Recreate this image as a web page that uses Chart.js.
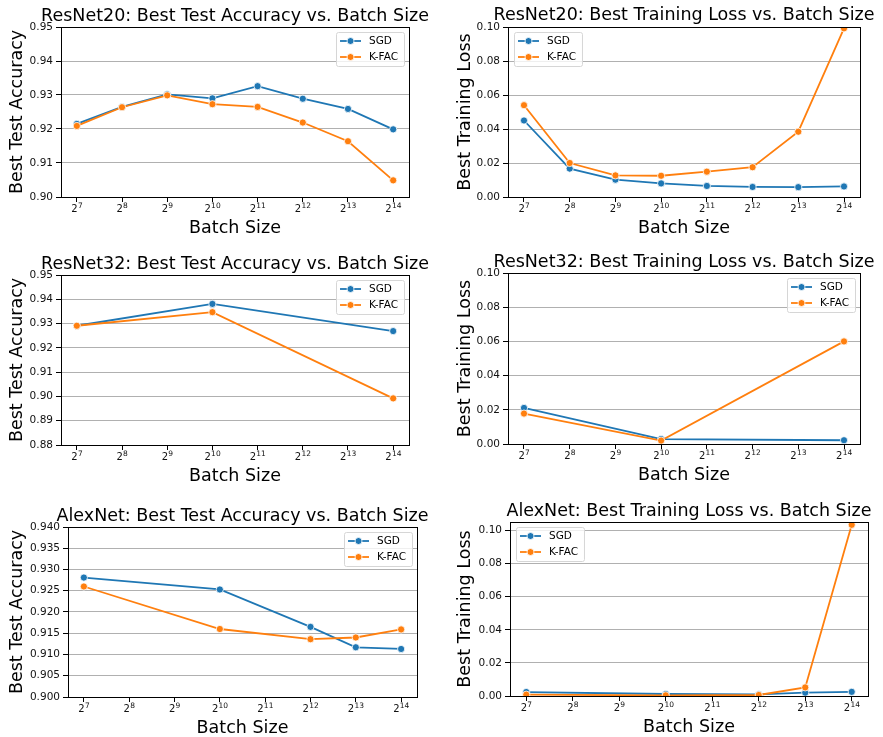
<!DOCTYPE html>
<html>
<head>
<meta charset="utf-8">
<script src="https://cdn.jsdelivr.net/npm/chart.js@4.4.1/dist/chart.umd.min.js"></script>
<style>
  html, body { margin: 0; padding: 0; background: #fff; width: 883px; height: 737px; overflow: hidden; }
  canvas { position: absolute; }
</style>
</head>
<body>
<canvas id="r20acc"></canvas>
<canvas id="r20loss"></canvas>
<canvas id="r32acc"></canvas>
<canvas id="r32loss"></canvas>
<canvas id="alexacc"></canvas>
<canvas id="alexloss"></canvas>
<script>
// x axis: batch size as powers of two (base 2, exponent as superscript)
const xTickExp = [7, 8, 9, 10, 11, 12, 13, 14];
const xTickBase = '2';
const xTickSup = ['7', '8', '9', '10', '11', '12', '13', '14'];
const seriesNames = ['SGD', 'K-FAC'];

// ResNet20
const r20Exp = [7, 8, 9, 10, 11, 12, 13, 14];
const r20AccSGD = [0.9215, 0.9265, 0.9302, 0.9290, 0.9326, 0.9289, 0.9259, 0.9199];
const r20AccKFAC = [0.9209, 0.9264, 0.9299, 0.9273, 0.9265, 0.9219, 0.9164, 0.9049];
const r20LossSGD = [0.0450, 0.0167, 0.0102, 0.0080, 0.0065, 0.0059, 0.0058, 0.0062];
const r20LossKFAC = [0.0540, 0.0200, 0.0127, 0.0125, 0.0149, 0.0175, 0.0384, 0.0992];

// ResNet32
const r32Exp = [7, 10, 14];
const r32AccSGD = [0.9291, 0.9381, 0.9269];
const r32AccKFAC = [0.9291, 0.9347, 0.8992];
const r32LossSGD = [0.0211, 0.0029, 0.0022];
const r32LossKFAC = [0.0178, 0.0020, 0.0600];

// AlexNet
const alexExp = [7, 10, 12, 13, 14];
const alexAccSGD = [0.9281, 0.9253, 0.9165, 0.9117, 0.9113];
const alexAccKFAC = [0.9260, 0.9160, 0.9136, 0.9140, 0.9159];
const alexLossSGD = [0.0024, 0.0012, 0.0010, 0.0020, 0.0025];
const alexLossKFAC = [0.0008, 0.0004, 0.0006, 0.0052, 0.1035];

// y tick values
const r20AccTicks = [0.90, 0.91, 0.92, 0.93, 0.94, 0.95];
const r32AccTicks = [0.88, 0.89, 0.90, 0.91, 0.92, 0.93, 0.94, 0.95];
const alexAccTicks = [0.900, 0.905, 0.910, 0.915, 0.920, 0.925, 0.930, 0.935, 0.940];
const lossTicks = [0.00, 0.02, 0.04, 0.06, 0.08, 0.10];

const BLUE = '#1f77b4';
const ORANGE = '#ff7f0e';
const FONT = '"DejaVu Sans", sans-serif';

// draws the top/right spines, the title, the 2^n tick labels and a matplotlib-like legend
const mplDecor = {
    id: 'mplDecor',
    afterDraw(chart, args, opts) {
        const ctx = chart.ctx;
        const a = chart.chartArea;
        ctx.save();
        ctx.strokeStyle = '#000';
        ctx.lineWidth = 1;
        ctx.strokeRect(Math.round(a.left) + 0.5, Math.round(a.top) + 0.5,
            Math.round(a.right - a.left), Math.round(a.bottom - a.top));

        ctx.fillStyle = '#000';
        ctx.font = '17.5px ' + FONT;
        ctx.textAlign = 'center';
        ctx.textBaseline = 'alphabetic';
        ctx.fillText(opts.title, (a.left + a.right) / 2, a.top - (opts.titleGap || 6));

        // x tick labels: 2 with raised exponent
        const xs = chart.scales.x;
        ctx.textAlign = 'left';
        ctx.fillStyle = '#111';
        xTickExp.forEach((v, i) => {
            const px = xs.getPixelForValue(v);
            ctx.font = '10px ' + FONT;
            const bw = ctx.measureText(xTickBase).width;
            ctx.font = '7.5px ' + FONT;
            const ew = ctx.measureText(xTickSup[i]).width;
            const x0 = px - (bw + ew) / 2;
            ctx.font = '10px ' + FONT;
            ctx.fillText(xTickBase, x0, a.bottom + 15);
            ctx.font = '7.5px ' + FONT;
            ctx.fillText(xTickSup[i], x0 + bw + 0.3, a.bottom + 10.8);
        });

        // legend
        ctx.font = '10.5px ' + FONT;
        const sets = chart.data.datasets;
        let tw = 0;
        sets.forEach(d => { tw = Math.max(tw, ctx.measureText(d.label).width); });
        const w = 33 + tw + 6, h = 34;
        const x0 = opts.legend === 'left' ? a.left + 6 : a.right - 5 - w;
        const y0 = a.top + 5;
        ctx.beginPath();
        ctx.roundRect(x0 + 0.5, y0 + 0.5, w, h, 2);
        ctx.fillStyle = 'rgba(255,255,255,0.8)';
        ctx.fill();
        ctx.strokeStyle = '#d6d6d6';
        ctx.lineWidth = 1;
        ctx.stroke();
        sets.forEach((d, i) => {
            const cy = y0 + 9 + i * 16;
            ctx.strokeStyle = d.borderColor;
            ctx.lineWidth = 1.8;
            ctx.beginPath();
            ctx.moveTo(x0 + 4, cy);
            ctx.lineTo(x0 + 25, cy);
            ctx.stroke();
            ctx.beginPath();
            ctx.arc(x0 + 14.5, cy, 3.5, 0, Math.PI * 2);
            ctx.fillStyle = d.borderColor;
            ctx.fill();
            ctx.strokeStyle = '#fff';
            ctx.lineWidth = 0.8;
            ctx.stroke();
            ctx.fillStyle = '#000';
            ctx.textAlign = 'left';
            ctx.textBaseline = 'middle';
            ctx.fillText(d.label, x0 + 33, cy + 0.5);
        });
        ctx.restore();
    }
};

function makeSeries(label, xs, ys, color, order) {
    return {
        label: label,
        data: xs.map((x, i) => ({ x: x, y: ys[i] })),
        borderColor: color,
        backgroundColor: color,
        borderWidth: 1.8,
        pointRadius: 3.6,
        pointBorderColor: '#fff',
        pointBorderWidth: 0.8,
        pointBackgroundColor: color,
        tension: 0,
        order: order
    };
}

function makePlot(id, box, col, title, yLabel, xs, sgd, kfac, yMin, yMax, yTicks, digits, legend, titleGap) {
    const canvasLeft = col === 0 ? 0 : 448;
    const canvasWidth = col === 0 ? 440 : 435;
    const canvasTop = box.top - 27;
    const canvasHeight = box.bottom - box.top + 27 + 45;
    const el = document.getElementById(id);
    el.style.left = canvasLeft + 'px';
    el.style.top = canvasTop + 'px';
    el.width = canvasWidth;
    el.height = canvasHeight;
    el.style.width = canvasWidth + 'px';
    el.style.height = canvasHeight + 'px';

    new Chart(el.getContext('2d'), {
        type: 'line',
        data: {
            datasets: [
                makeSeries(seriesNames[0], xs, sgd, BLUE, 1),
                makeSeries(seriesNames[1], xs, kfac, ORANGE, 0)
            ]
        },
        options: {
            responsive: false,
            animation: false,
            layout: { padding: { left: 0, top: 27, right: canvasLeft + canvasWidth - box.right, bottom: 0 } },
            plugins: {
                legend: { display: false },
                tooltip: { enabled: false },
                mplDecor: { title: title, legend: legend, titleGap: titleGap }
            },
            scales: {
                x: {
                    type: 'linear',
                    min: 6.65,
                    max: 14.35,
                    afterBuildTicks: s => { s.ticks = xTickExp.map(v => ({ value: v })); },
                    afterFit: s => { s.height = 45; },
                    ticks: { display: false },
                    grid: { drawOnChartArea: false, tickLength: 5, tickColor: '#000', tickWidth: 1 },
                    border: { display: true, color: '#000', width: 1 },
                    title: {
                        display: true,
                        text: 'Batch Size',
                        color: '#000',
                        font: { family: FONT, size: 17.5, lineHeight: 1.2 },
                        padding: { top: 0, bottom: 3 }
                    }
                },
                y: {
                    min: yMin,
                    max: yMax,
                    afterBuildTicks: s => { s.ticks = yTicks.map(v => ({ value: v })); },
                    afterFit: s => { s.width = box.left - canvasLeft; },
                    ticks: {
                        color: '#111',
                        font: { family: FONT, size: 10.5 },
                        padding: 3,
                        autoSkip: false,
                        callback: v => v.toFixed(digits)
                    },
                    grid: { color: '#b0b0b0', lineWidth: 1, tickLength: 5, tickColor: '#000', tickWidth: 1 },
                    border: { display: true, color: '#000', width: 1 },
                    title: {
                        display: true,
                        text: yLabel,
                        color: '#000',
                        font: { family: FONT, size: 17.5, lineHeight: 1.2 },
                        padding: { top: 7, bottom: 0 }
                    }
                }
            }
        },
        plugins: [mplDecor]
    });
}

makePlot('r20acc', { left: 61, right: 409, top: 27, bottom: 197 }, 0,
    'ResNet20: Best Test Accuracy vs. Batch Size', 'Best Test Accuracy',
    r20Exp, r20AccSGD, r20AccKFAC, 0.90, 0.95, r20AccTicks, 2, 'right', 6);
makePlot('r20loss', { left: 508, right: 860, top: 27, bottom: 197 }, 1,
    'ResNet20: Best Training Loss vs. Batch Size', 'Best Training Loss',
    r20Exp, r20LossSGD, r20LossKFAC, 0, 0.10, lossTicks, 2, 'left', 7);
makePlot('r32acc', { left: 61, right: 409, top: 275, bottom: 445 }, 0,
    'ResNet32: Best Test Accuracy vs. Batch Size', 'Best Test Accuracy',
    r32Exp, r32AccSGD, r32AccKFAC, 0.88, 0.95, r32AccTicks, 2, 'right', 6);
makePlot('r32loss', { left: 508, right: 860, top: 273, bottom: 444 }, 1,
    'ResNet32: Best Training Loss vs. Batch Size', 'Best Training Loss',
    r32Exp, r32LossSGD, r32LossKFAC, 0, 0.10, lossTicks, 2, 'right', 6);
makePlot('alexacc', { left: 68, right: 417, top: 527, bottom: 697 }, 0,
    'AlexNet: Best Test Accuracy vs. Batch Size', 'Best Test Accuracy',
    alexExp, alexAccSGD, alexAccKFAC, 0.900, 0.940, alexAccTicks, 3, 'right', 6);
makePlot('alexloss', { left: 510, right: 868, top: 522, bottom: 696 }, 1,
    'AlexNet: Best Training Loss vs. Batch Size', 'Best Training Loss',
    alexExp, alexLossSGD, alexLossKFAC, 0, 0.1052, lossTicks, 2, 'left', 6);
</script>
</body>
</html>
